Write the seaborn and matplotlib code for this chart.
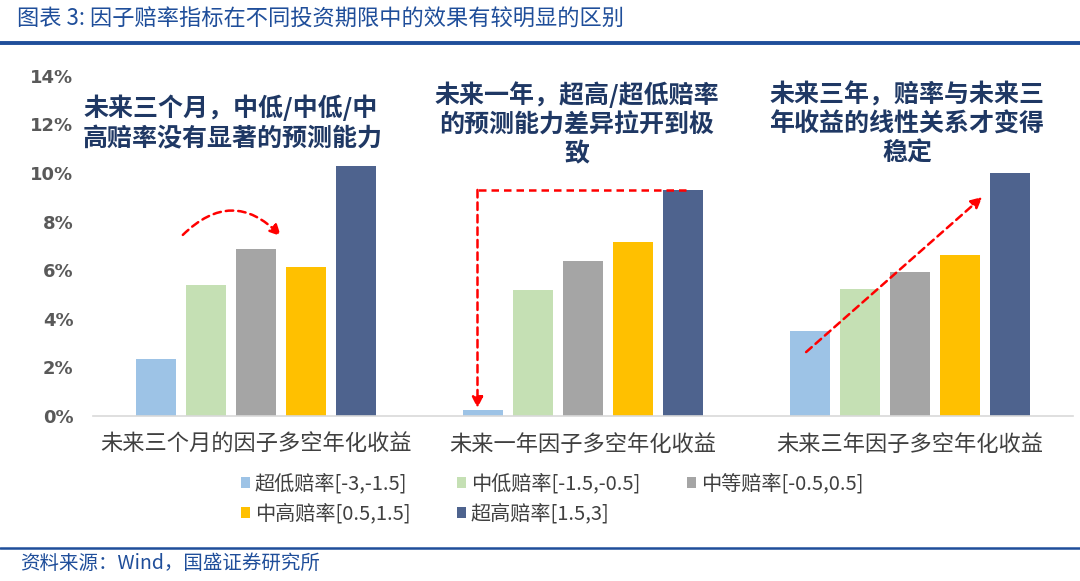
import numpy as np
import pandas as pd
import matplotlib
matplotlib.use("Agg")
import matplotlib.pyplot as plt
from matplotlib.lines import Line2D
import seaborn as sns

# ---------------- data ----------------
periods = ["未来三个月的因子多空年化收益", "未来一年因子多空年化收益", "未来三年因子多空年化收益"]
buckets = ["超低赔率[-3,-1.5]", "中低赔率[-1.5,-0.5]", "中等赔率[-0.5,0.5]",
           "中高赔率[0.5,1.5]", "超高赔率[1.5,3]"]
ultra_low = [2.33, 0.25, 3.50]
mid_low = [5.39, 5.19, 5.21]
middle = [6.86, 6.37, 5.93]
mid_high = [6.13, 7.17, 6.61]
ultra_high = [10.29, 9.30, 10.01]
yticks = [0, 2, 4, 6, 8, 10, 12, 14]
colors = ["#9DC3E6", "#C5E0B4", "#A5A5A5", "#FFC000", "#4E638E"]

title = "图表 3: 因子赔率指标在不同投资期限中的效果有较明显的区别"
source = "资料来源：Wind，国盛证券研究所"
note1 = "未来三个月，中低/中低/中\n高赔率没有显著的预测能力"
note2 = "未来一年，超高/超低赔率\n的预测能力差异拉开到极\n致"
note3 = "未来三年，赔率与未来三\n年收益的线性关系才变得\n稳定"

# ---------------- style ----------------
sns.set_theme(style="white")
plt.rcParams['font.family'] = ['Noto Sans CJK SC', 'DejaVu Sans']
plt.rcParams['axes.unicode_minus'] = False

W, H = 1080, 581
fig = plt.figure(figsize=(W / 100, H / 100), dpi=100)
ax = fig.add_axes([93 / W, (H - 416) / H, 980 / W, 340.3 / H])

rows = []
for b, vals in zip(buckets, [ultra_low, mid_low, middle, mid_high, ultra_high]):
    for p, v in zip(periods, vals):
        rows.append({"period": p, "bucket": b, "value": v})
df = pd.DataFrame(rows)

sns.barplot(data=df, x="period", y="value", hue="bucket", order=periods,
            hue_order=buckets, palette=colors, width=0.765, gap=0.2,
            saturation=1, errorbar=None, linewidth=0, ax=ax)

ax.set_xlim(-0.5, 2.5)
ax.set_ylim(0, 14)
ax.set_xlabel("")
ax.set_ylabel("")
for s in ["left", "right", "top"]:
    ax.spines[s].set_visible(False)
ax.spines["bottom"].set_color("#D9D9D9")
ax.spines["bottom"].set_linewidth(1.2)
ax.set_yticks(yticks)
ax.set_yticklabels([f"{t}%" for t in yticks], fontfamily="DejaVu Sans",
                   fontweight="bold", color="#595959", fontsize=13)
ax.tick_params(axis="y", length=0, pad=14)
ax.tick_params(axis="x", length=0, pad=12, labelsize=16, labelcolor="#404040")

# legend (row-major order)
handles, labels = ax.get_legend_handles_labels()
ax.legend_.remove()
order = [0, 3, 1, 4, 2]
fig.legend([handles[i] for i in order], [labels[i] for i in order], ncol=3,
           loc="center", bbox_to_anchor=(552 / W, 1 - 499 / H), frameon=False,
           handlelength=0.45, handleheight=0.45, handletextpad=0.25,
           columnspacing=2.3, labelspacing=0.45, fontsize=14.5,
           labelcolor="#404040")

# annotations text
ncol = "#1F3864"
fig.text(83 / W, 1 - 123 / H, note1, ha="left", va="center", fontsize=18,
         fontweight="bold", color=ncol, linespacing=1.3)
fig.text(577 / W, 1 - 124 / H, note2, ha="center", va="center", fontsize=18,
         fontweight="bold", color=ncol, linespacing=1.25)
fig.text(907 / W, 1 - 124 / H, note3, ha="center", va="center", fontsize=18,
         fontweight="bold", color=ncol, linespacing=1.25)

# red dashed arrows (data coords)
dash = (0, (3, 2))
ax.annotate("", xy=(0.075, 7.4), xytext=(-0.225, 7.45), annotation_clip=False,
            arrowprops=dict(arrowstyle="-|>", color="red", lw=1.8, linestyle=dash,
                            connectionstyle="arc3,rad=-0.5", mutation_scale=16,
                            shrinkA=0, shrinkB=0))
ax.plot([1.316, 0.677], [9.30, 9.30], color="red", lw=1.8, linestyle=dash)
ax.annotate("", xy=(0.677, 0.33), xytext=(0.677, 9.30), annotation_clip=False,
            arrowprops=dict(arrowstyle="-|>", color="red", lw=1.8, linestyle=dash,
                            mutation_scale=16, shrinkA=0, shrinkB=0))
ax.annotate("", xy=(2.222, 9.01), xytext=(1.683, 2.63), annotation_clip=False,
            arrowprops=dict(arrowstyle="-|>", color="red", lw=1.8, linestyle=dash,
                            mutation_scale=16, shrinkA=0, shrinkB=0))

# header / footer
blue = "#1F4E9A"
fig.text(17 / W, 1 - 19 / H, title, ha="left", va="center", fontsize=16,
         color=blue)
fig.add_artist(Line2D([0, 1], [1 - 43 / H] * 2, color=blue, lw=2.8,
                      transform=fig.transFigure))
fig.add_artist(Line2D([0, 1], [1 - 548 / H] * 2, color=blue, lw=1.8,
                      transform=fig.transFigure))
fig.text(20 / W, 1 - 563 / H, source, ha="left", va="center", fontsize=14,
         color=blue)

fig.savefig("out.png", dpi=100)
